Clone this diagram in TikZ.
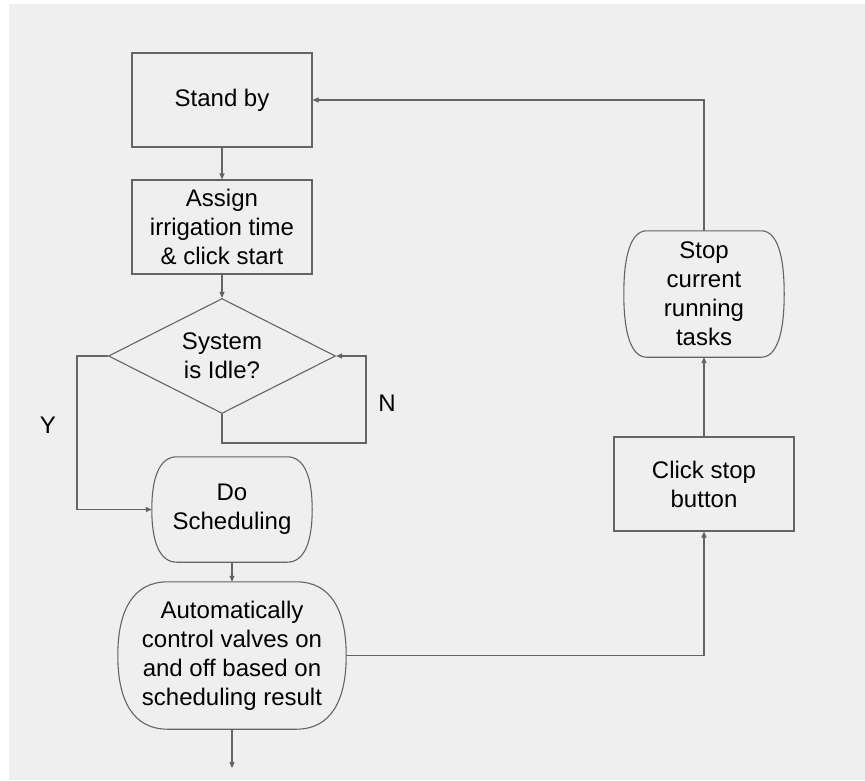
\documentclass[tikz,border=0pt]{standalone}
\usepackage{fontspec}
\setmainfont{Liberation Sans}
\usetikzlibrary{shapes.geometric,arrows.meta}
\definecolor{pagegray}{RGB}{239,239,239}
\definecolor{linegray}{RGB}{100,100,100}
\tikzset{
  chartline/.style={draw=linegray, line width=1.1pt},
  flowarrow/.style={chartline, -{Triangle[length=6pt,width=5pt]}},
  txt/.style={font=\fontsize{24}{29}\selectfont, align=center, text=black, inner sep=0pt},
  procbox/.style={txt, chartline, minimum width=180pt, minimum height=94pt},
  roundproc/.style={txt, draw=none},
  decision/.style={txt, chartline, diamond, aspect=2, minimum width=227pt, minimum height=115pt},
}
% outline with straight top and bottom and outward bulging sides
% #1 node name, #2 horizontal corner reach, #3 vertical control offset
\newcommand\bulgeoutline[3]{%
  \draw[chartline]
    ([xshift=#2pt]#1.north west) -- ([xshift=-#2pt]#1.north east)
    .. controls ([xshift={-0.3*#2pt}]#1.north east) and ([yshift=-#3pt]#1.north east) .. (#1.east)
    .. controls ([yshift=#3pt]#1.south east) and ([xshift={-0.3*#2pt}]#1.south east) .. ([xshift=-#2pt]#1.south east)
    -- ([xshift=#2pt]#1.south west)
    .. controls ([xshift={0.3*#2pt}]#1.south west) and ([yshift=#3pt]#1.south west) .. (#1.west)
    .. controls ([yshift=-#3pt]#1.north west) and ([xshift={0.3*#2pt}]#1.north west) .. cycle;}
\begin{document}
\begin{tikzpicture}[x=1pt,y=-1pt]
  \useasboundingbox[fill=white] (0,0) rectangle (865,780);
  \fill[pagegray] (9,4) rectangle (865,780);

  % left column
  \node[procbox] (standby) at (222,100) {Stand by};
  \node[procbox] (assign) at (222,227) {Assign\\irrigation time\\\& click start};
  \node[decision] (idle) at (222,356) {System\\is Idle?};
  \node[roundproc, minimum width=160pt, minimum height=105pt] (sched) at (232,509.5) {Do\\Scheduling};
  \bulgeoutline{sched}{25}{21}
  \node[roundproc, minimum width=228pt, minimum height=147pt] (auto) at (232,655.5)
    {Automatically\\control valves on\\and off based on\\scheduling result};
  \bulgeoutline{auto}{50}{29}

  % right column
  \node[procbox] (click) at (704,484) {Click stop\\button};
  \node[roundproc, minimum width=160pt, minimum height=126pt] (stop) at (704,294)
    {Stop\\current\\running\\tasks};
  \bulgeoutline{stop}{23}{25}

  % branch labels
  \node[txt] (ylab) at (48,425) {Y};
  \node[txt] (nlab) at (387,403) {N};

  \coordinate (tail) at (232,768);
  \coordinate (yturn) at (77,356);
  \coordinate (nturn) at (366,443);

  % connectors
  \draw[flowarrow] (standby.south) -- (assign.north);
  \draw[flowarrow] (assign.south) -- (idle.north);
  \draw[flowarrow] (idle.west) -- (yturn) |- (sched.west);
  \draw[flowarrow] (idle.south) |- (nturn) |- (idle.east);
  \draw[flowarrow] (sched.south) -- (auto.north);
  \draw[flowarrow] (auto.south) -- (tail);
  \draw[flowarrow] (auto.east) -| (click.south);
  \draw[flowarrow] (click.north) -- (stop.south);
  \draw[flowarrow] (stop.north) |- (standby.east);
\end{tikzpicture}
\end{document}
